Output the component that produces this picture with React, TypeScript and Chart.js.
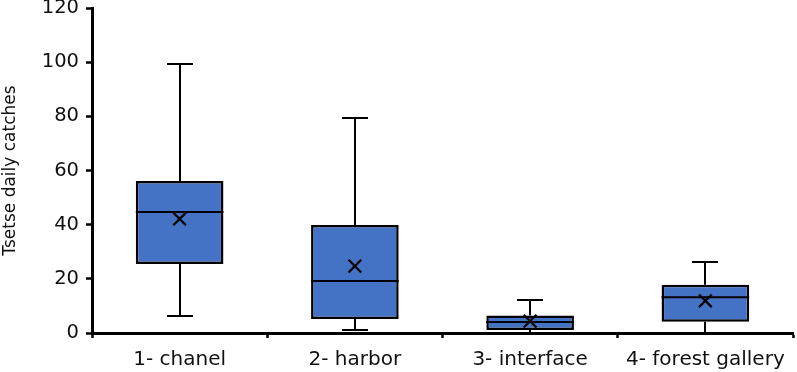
import React, { useEffect, useRef } from 'react';
import { Chart, registerables } from 'chart.js';

Chart.register(...registerables);

const categories = ['1- chanel', '2- harbor', '3- interface', '4- forest gallery'];
const mins = [6.3, 1.1, 0, 0];
const q1s = [25.5, 5.2, 1.1, 4.2];
const medians = [44.7, 19.2, 4.1, 13.2];
const q3s = [56.1, 39.9, 6.5, 17.8];
const maxs = [99.3, 79.4, 12.2, 26.2];
const means = [42.1, 24.7, 4.4, 11.9];
const yTicks = [0, 20, 40, 60, 80, 100, 120];
const yTitle = 'Tsetse daily catches';

const W = 797;
const H = 372;
const FONT = 'DejaVu Sans';
const TEXT = '#111111';
const BOX_FILL = '#4472C4';

const boxPlugin = {
  id: 'boxWhiskers',
  beforeDatasetsDraw(chart: any) {
    const { ctx, scales } = chart;
    const x = scales.x;
    const y = scales.y;
    ctx.save();
    ctx.strokeStyle = '#000';
    ctx.lineWidth = 2;
    const capHalf = 13;
    categories.forEach((_, i) => {
      const cx = Math.round(x.getPixelForValue(i));
      const yMin = y.getPixelForValue(mins[i]);
      const yQ1 = y.getPixelForValue(q1s[i]);
      const yQ3 = y.getPixelForValue(q3s[i]);
      const yMax = y.getPixelForValue(maxs[i]);
      ctx.beginPath();
      ctx.moveTo(cx, yMin);
      ctx.lineTo(cx, yQ1);
      ctx.moveTo(cx, yQ3);
      ctx.lineTo(cx, yMax);
      ctx.moveTo(cx - capHalf, yMin);
      ctx.lineTo(cx + capHalf, yMin);
      ctx.moveTo(cx - capHalf, yMax);
      ctx.lineTo(cx + capHalf, yMax);
      ctx.stroke();
    });
    ctx.restore();
  },
  afterDatasetDraw(chart: any, args: any) {
    if (args.index !== 0) return;
    const { ctx, scales } = chart;
    const y = scales.y;
    const meta = chart.getDatasetMeta(0);
    ctx.save();
    ctx.strokeStyle = '#000';
    ctx.lineWidth = 2;
    meta.data.forEach((bar: any, i: number) => {
      const half = bar.width / 2;
      const ym = y.getPixelForValue(medians[i]);
      ctx.beginPath();
      ctx.moveTo(bar.x - half, ym);
      ctx.lineTo(bar.x + half, ym);
      ctx.stroke();
    });
    ctx.restore();
  },
};

export default function App() {
  const ref = useRef<HTMLCanvasElement | null>(null);

  useEffect(() => {
    if (!ref.current) return;
    const boxData = categories.map((_, i) => [q1s[i], q3s[i]]);
    const chart = new Chart(ref.current, {
      type: 'bar',
      data: {
        labels: categories,
        datasets: [
          {
            type: 'bar',
            label: 'box',
            data: boxData as any,
            backgroundColor: BOX_FILL,
            borderColor: '#000',
            borderWidth: 2.5,
            borderSkipped: false,
            barPercentage: 0.5,
            categoryPercentage: 1,
            grouped: false,
            order: 2,
          } as any,
          {
            type: 'line',
            label: 'mean',
            data: means,
            showLine: false,
            pointStyle: 'crossRot',
            pointRadius: 9,
            pointBorderWidth: 2.2,
            pointBorderColor: '#000',
            pointBackgroundColor: '#000',
            order: 0,
          } as any,
        ],
      },
      options: {
        responsive: false,
        animation: false,
        layout: { autoPadding: false, padding: { top: 8, right: 4, left: 0, bottom: 0 } },
        plugins: {
          legend: { display: false },
          tooltip: { enabled: false },
        },
        scales: {
          x: {
            type: 'category',
            offset: true,
            grid: {
              display: true,
              offset: true,
              drawOnChartArea: false,
              drawTicks: true,
              tickLength: 5,
              tickWidth: 2.5,
              tickColor: '#000',
            },
            border: { display: true, color: '#000', width: 3 },
            ticks: {
              color: TEXT,
              font: { family: FONT, size: 20 },
              padding: 10,
              maxRotation: 0,
              autoSkip: false,
            },
            afterFit(scale: any) {
              scale.height = 39;
              scale.paddingLeft = 0;
              scale.paddingRight = 0;
            },
          },
          y: {
            min: 0,
            max: 120,
            afterBuildTicks(scale: any) {
              scale.ticks = yTicks.map((v) => ({ value: v }));
            },
            grid: {
              display: true,
              drawOnChartArea: false,
              drawTicks: true,
              tickLength: 6,
              tickWidth: 2.5,
              tickColor: '#000',
            },
            border: { display: true, color: '#000', width: 3 },
            ticks: {
              color: TEXT,
              font: { family: FONT, size: 19.5 },
              padding: 7,
            },
            title: {
              display: true,
              text: yTitle,
              color: TEXT,
              font: { family: FONT, size: 17 },
              padding: { top: 0, bottom: 0 },
            },
            afterFit(scale: any) {
              scale.width = 92;
              scale.paddingTop = 0;
              scale.paddingBottom = 0;
            },
          },
        },
      },
      plugins: [boxPlugin],
    });
    return () => chart.destroy();
  }, []);

  return (
    <div style={{ position: 'fixed', left: 0, top: 0, width: W, height: H, background: '#fff' }}>
      <canvas ref={ref} width={W} height={H} style={{ display: 'block', width: W, height: H }} />
    </div>
  );
}
